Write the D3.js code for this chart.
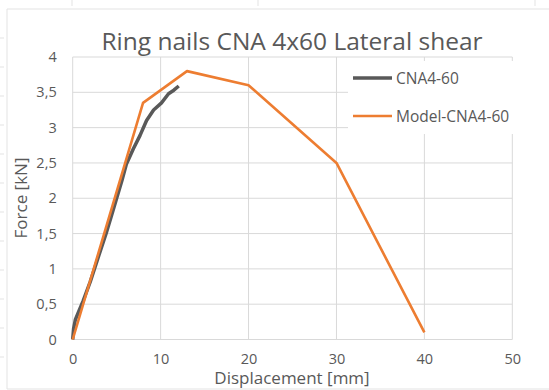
<!DOCTYPE html>
<html><head><meta charset="utf-8">
<script src="https://cdn.jsdelivr.net/npm/d3@7"></script>
<style>body{margin:0;background:#fff}svg{display:block}text{font-family:"Open Sans",sans-serif;fill:#595959}</style>
</head><body>
<script>
const xTicks = [0,10,20,30,40,50];
const yTicks = [0,0.5,1,1.5,2,2.5,3,3.5,4];
const expX = [0,0.1,0.3,0.7,1.2,2,3,3.8,4.4,5,5.6,6.1,6.9,7.66,8.4,9.2,10.1,10.9,11.5,12.06];
const expY = [0,0.15,0.28,0.4,0.55,0.82,1.2,1.5,1.75,2.0,2.25,2.48,2.7,2.89,3.1,3.25,3.35,3.48,3.53,3.59];
const modelX = [0,8,13,20,30,40];
const modelY = [0,3.35,3.8,3.6,2.5,0.1];
const seriesNames = ["CNA4-60","Model-CNA4-60"];
const colors = ["#595959","#ED7D31"];

const W=549,H=390;
const svg=d3.select("body").append("svg").attr("width",W).attr("height",H);
const x=d3.scaleLinear().domain([0,50]).range([72.7,512.3]);
const y=d3.scaleLinear().domain([0,4]).range([339.5,57]);

// spreadsheet frame artifacts
const fr=svg.append("g").attr("stroke","#e3e3e3").attr("fill","none");
fr.append("path").attr("d","M7,389V9H549");
fr.append("path").attr("d","M7,389H549");
[38,67,96,125,154,183,212,241,270,299,328,357].forEach(v=>fr.append("path").attr("d",`M0,${v}H4`));
[72,258,535].forEach(v=>fr.append("path").attr("d",`M${v},0V6`));

// gridlines
const g=svg.append("g");
g.selectAll(".hy").data(yTicks).join("line").attr("x1",x(0)).attr("x2",x(50))
 .attr("y1",d=>y(d)).attr("y2",d=>y(d)).attr("stroke","#d9d9d9").attr("stroke-width",1);
g.selectAll(".vx").data(xTicks).join("line").attr("y1",y(0)).attr("y2",y(4))
 .attr("x1",d=>x(d)).attr("x2",d=>x(d)).attr("stroke","#d9d9d9").attr("stroke-width",1);

// axes via d3
const fmt=d=>String(d).replace(".",",");
const ax=svg.append("g").attr("transform",`translate(0,${y(0)})`)
 .call(d3.axisBottom(x).tickValues(xTicks).tickSize(0).tickPadding(14).tickFormat(fmt));
ax.select(".domain").remove();
ax.selectAll("text").style("font-size","14.5px").attr("fill","#595959");
const ay=svg.append("g").attr("transform",`translate(${x(0)},0)`)
 .call(d3.axisLeft(y).tickValues(yTicks).tickSize(0).tickPadding(16).tickFormat(fmt));
ay.select(".domain").remove();
ay.selectAll("text").style("font-size","14.5px").attr("fill","#595959");

// lines
const line=d3.line().x(d=>x(d[0])).y(d=>y(d[1]));
svg.append("path").datum(expX.map((v,i)=>[v,expY[i]])).attr("d",line)
 .attr("fill","none").attr("stroke",colors[0]).attr("stroke-width",3.5).attr("stroke-linejoin","round");
svg.append("path").datum(modelX.map((v,i)=>[v,modelY[i]])).attr("d",line)
 .attr("fill","none").attr("stroke",colors[1]).attr("stroke-width",2.6).attr("stroke-linejoin","round");

// legend
svg.append("rect").attr("x",348).attr("y",61).attr("width",175).attr("height",73).attr("fill","#fff");
seriesNames.forEach((n,i)=>{
  const yy=78+i*38;
  svg.append("line").attr("x1",353).attr("x2",392).attr("y1",yy).attr("y2",yy)
   .attr("stroke",colors[i]).attr("stroke-width",i?2.6:3.5);
  svg.append("text").attr("x",396).attr("y",yy+5.5).style("font-size","15.5px").text(n);
});

// title & axis titles
svg.append("text").attr("x",292).attr("y",50).attr("text-anchor","middle").style("font-size","24.5px")
 .text("Ring nails CNA 4x60 Lateral shear");
svg.append("text").attr("x",292).attr("y",384).attr("text-anchor","middle").style("font-size","17px")
 .text("Displacement [mm]");
svg.append("text").attr("transform","translate(27,198) rotate(-90)").attr("text-anchor","middle")
 .style("font-size","17px").text("Force [kN]");
</script>
</body></html>
